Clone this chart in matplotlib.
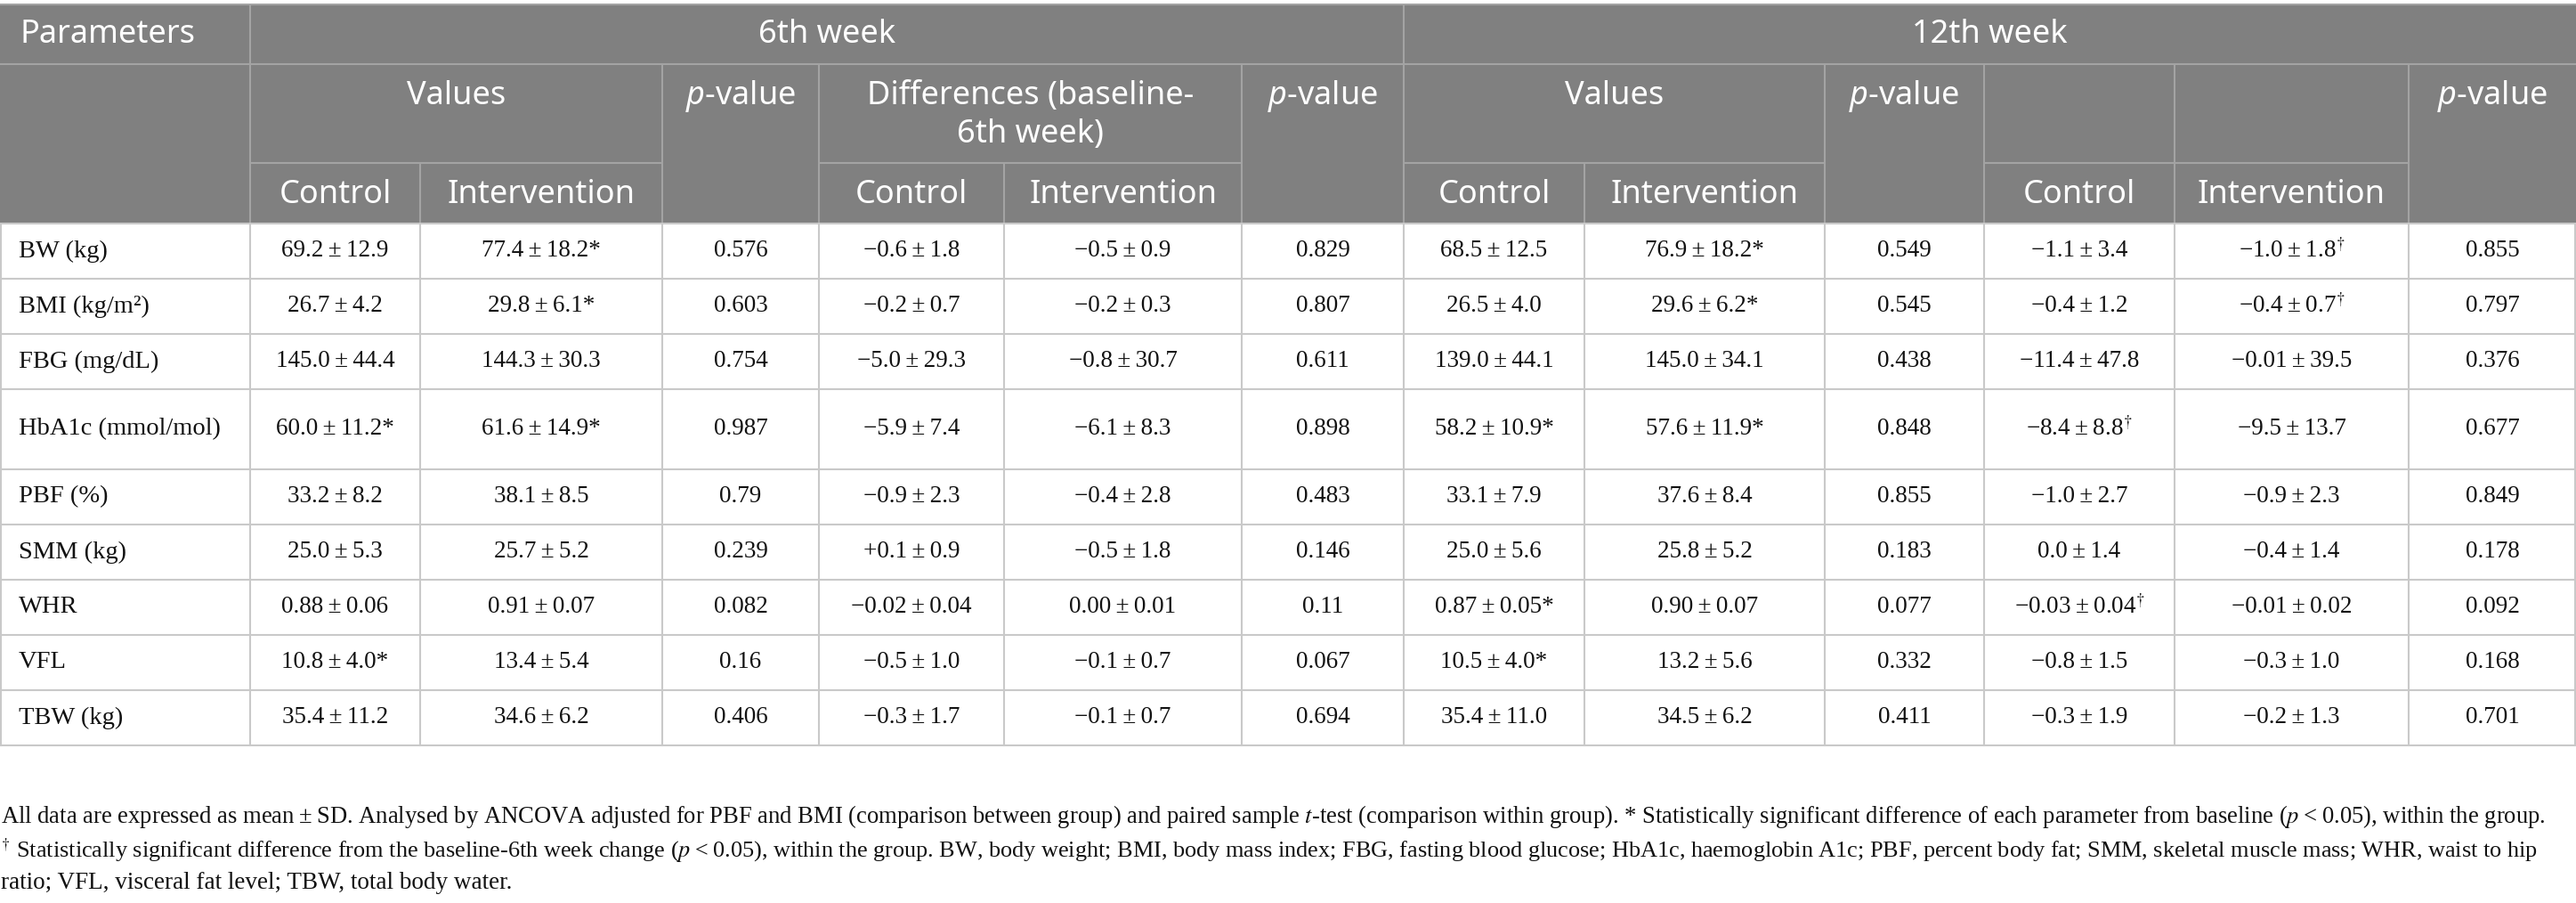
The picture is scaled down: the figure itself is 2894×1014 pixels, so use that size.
import matplotlib.pyplot as plt
from matplotlib.patches import Rectangle

W, H = 2894, 1014

params = ["BW (kg)", "BMI (kg/m\u00b2)", "FBG (mg/dL)", "HbA1c (mmol/mol)", "PBF (%)",
          "SMM (kg)", "WHR", "VFL", "TBW (kg)"]

w6_control = ["69.2±12.9", "26.7±4.2", "145.0±44.4", "60.0±11.2*", "33.2±8.2",
              "25.0±5.3", "0.88±0.06", "10.8±4.0*", "35.4±11.2"]
w6_interv = ["77.4±18.2*", "29.8±6.1*", "144.3±30.3", "61.6±14.9*", "38.1±8.5",
             "25.7±5.2", "0.91±0.07", "13.4±5.4", "34.6±6.2"]
w6_p = ["0.576", "0.603", "0.754", "0.987", "0.79", "0.239", "0.082", "0.16", "0.406"]
d6_control = ["−0.6±1.8", "−0.2±0.7", "−5.0±29.3", "−5.9±7.4", "−0.9±2.3",
              "+0.1±0.9", "−0.02±0.04", "−0.5±1.0", "−0.3±1.7"]
d6_interv = ["−0.5±0.9", "−0.2±0.3", "−0.8±30.7", "−6.1±8.3", "−0.4±2.8",
             "−0.5±1.8", "0.00±0.01", "−0.1±0.7", "−0.1±0.7"]
d6_p = ["0.829", "0.807", "0.611", "0.898", "0.483", "0.146", "0.11", "0.067", "0.694"]
w12_control = ["68.5±12.5", "26.5±4.0", "139.0±44.1", "58.2±10.9*", "33.1±7.9",
               "25.0±5.6", "0.87±0.05*", "10.5±4.0*", "35.4±11.0"]
w12_interv = ["76.9±18.2*", "29.6±6.2*", "145.0±34.1", "57.6±11.9*", "37.6±8.4",
              "25.8±5.2", "0.90±0.07", "13.2±5.6", "34.5±6.2"]
w12_p = ["0.549", "0.545", "0.438", "0.848", "0.855", "0.183", "0.077", "0.332", "0.411"]
d12_control = ["−1.1±3.4", "−0.4±1.2", "−11.4±47.8", "−8.4±8.8†", "−1.0±2.7",
               "0.0±1.4", "−0.03±0.04†", "−0.8±1.5", "−0.3±1.9"]
d12_interv = ["−1.0±1.8†", "−0.4±0.7†", "−0.01±39.5", "−9.5±13.7", "−0.9±2.3",
              "−0.4±1.4", "−0.01±0.02", "−0.3±1.0", "−0.2±1.3"]
d12_p = ["0.855", "0.797", "0.376", "0.677", "0.849", "0.178", "0.092", "0.168", "0.701"]

footnotes = [
    "All data are expressed as mean\u2009±\u2009SD. Analysed by ANCOVA adjusted for PBF and BMI "
    "(comparison between group) and paired sample $t$-test (comparison within group). "
    "* Statistically significant difference of each parameter from baseline ($p$\u2009<\u20090.05), within the group.",
    "$^{\\dagger}$ Statistically significant difference from the baseline-6th week change "
    "($p$\u2009<\u20090.05), within the group. BW, body weight; BMI, body mass index; FBG, fasting "
    "blood glucose; HbA1c, haemoglobin A1c; PBF, percent body fat; SMM, skeletal muscle mass; WHR, waist to hip",
    "ratio; VFL, visceral fat level; TBW, total body water.",
]

# layout in pixels
col_x = [0, 281, 472, 744, 920, 1128, 1395, 1577, 1780, 2050, 2229, 2443, 2706, 2894]
row_y = [251, 313, 375, 437, 527, 589, 651, 713, 775, 837]
TOP, H1, H2 = 5, 72, 183
FOOT_Y = [917, 955, 992]
FOOT_RIGHT = 2858

HEAD_BG = "#808080"
HEAD_LINE = "#a3a3a3"
BODY_LINE = "#c9c9c9"
TEXT = "#111111"
SANS = ["Noto Sans", "DejaVu Sans"]
SERIF = ["Liberation Serif", "DejaVu Serif"]

plt.rcParams["mathtext.fontset"] = "custom"
plt.rcParams["mathtext.it"] = "Noto Sans:italic"
plt.rcParams["mathtext.rm"] = "Noto Sans"

fig = plt.figure(figsize=(W / 100, H / 100), dpi=100)
ax = fig.add_axes([0, 0, 1, 1])
ax.set_xlim(0, W)
ax.set_ylim(H, 0)
ax.axis("off")

ax.add_patch(Rectangle((0, TOP), W, row_y[0] - TOP, color=HEAD_BG, lw=0))


def hline(y, x0, x1, c):
    ax.plot([x0, x1], [y, y], color=c, lw=1.5, solid_capstyle="butt")


def vline(x, y0, y1, c):
    ax.plot([x, x], [y0, y1], color=c, lw=1.5, solid_capstyle="butt")


# header grid
hline(TOP, 0, W, HEAD_LINE)
hline(H1, 0, W, HEAD_LINE)
for x0, x1 in [(281, 744), (920, 1395), (1577, 2050), (2229, 2706)]:
    hline(H2, x0, x1, HEAD_LINE)
for x in [281, 1577]:
    vline(x, TOP, H1, HEAD_LINE)
for x in [281, 744, 920, 1395, 1577, 2050, 2229, 2443, 2706]:
    vline(x, H1, H2, HEAD_LINE)
for x in col_x[1:-1]:
    vline(x, H2, row_y[0], HEAD_LINE)

# body grid
for y in row_y:
    hline(y, 0, W, BODY_LINE)
for x in col_x:
    vline(min(max(x, 1), W - 1), row_y[0], row_y[-1], BODY_LINE)

hs = 26
ax.text(22, (TOP + H1) / 2, "Parameters", color="white", fontsize=hs, family=SANS, va="center")
ax.text((281 + 1577) / 2, (TOP + H1) / 2, "6th week", color="white", fontsize=hs, family=SANS,
        ha="center", va="center")
ax.text((1577 + W) / 2, (TOP + H1) / 2, "12th week", color="white", fontsize=hs, family=SANS,
        ha="center", va="center")

row2 = [(281, 744, "Values"), (744, 920, "$p$-value"), (1395, 1577, "$p$-value"),
        (1577, 2050, "Values"), (2050, 2229, "$p$-value"), (2706, W, "$p$-value")]
for x0, x1, s in row2:
    ax.text((x0 + x1) / 2, 108, s, color="white", fontsize=hs, family=SANS,
            ha="center", va="center", math_fontfamily="custom")
ax.text((920 + 1395) / 2, 108, "Differences (baseline-", color="white", fontsize=hs,
        family=SANS, ha="center", va="center")
ax.text((920 + 1395) / 2, 151, "6th week)", color="white", fontsize=hs,
        family=SANS, ha="center", va="center")

sub_cols = [(281, 472), (472, 744), (920, 1128), (1128, 1395),
            (1577, 1780), (1780, 2050), (2229, 2443), (2443, 2706)]
for i, (x0, x1) in enumerate(sub_cols):
    ax.text((x0 + x1) / 2, (H2 + row_y[0]) / 2 + 2, ["Control", "Intervention"][i % 2],
            color="white", fontsize=hs, family=SANS, ha="center", va="center")

columns = [w6_control, w6_interv, w6_p, d6_control, d6_interv, d6_p,
           w12_control, w12_interv, w12_p, d12_control, d12_interv, d12_p]

ds = 19.5
for r, name in enumerate(params):
    yc = (row_y[r] + row_y[r + 1]) / 2
    ax.text(21, yc, name, fontsize=20.5, family=SERIF, va="center", color=TEXT)
    for c, col in enumerate(columns):
        s = col[r].replace("±", "\u2009±\u2009").replace("†", "$^{\\dagger}$")
        xc = (col_x[c + 1] + col_x[c + 2]) / 2
        ax.text(xc, yc, s, fontsize=ds, family=SERIF, ha="center", va="center",
                color=TEXT, math_fontfamily="stix")

# footnotes: the first two lines are set to fill the same width as the original
renderer = fig.canvas.get_renderer()
fs = 19.5
for i, line in enumerate(footnotes):
    t = ax.text(1, FOOT_Y[i], line, fontsize=fs, family=SERIF, va="center",
                color=TEXT, math_fontfamily="stix")
    if i < 2:
        width = t.get_window_extent(renderer).width
        t.set_fontsize(fs * (FOOT_RIGHT - 1) / width)

fig.savefig("out.png", dpi=100)
